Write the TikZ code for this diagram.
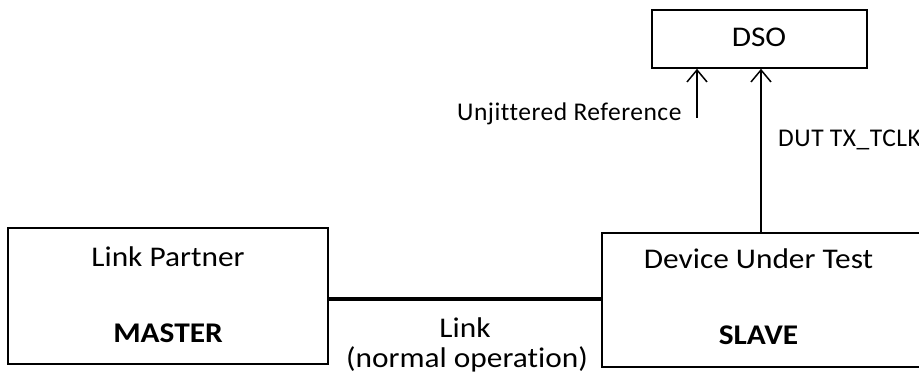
\documentclass[tikz,border=0pt]{standalone}
\usepackage{fontspec}
\setmainfont{Carlito}[Ligatures=NoCommon]
\newfontfamily\mainf{Carlito}[FakeStretch=1.1,Ligatures=NoCommon]
\newfontfamily\labf{Carlito}[Ligatures=NoCommon,LetterSpace=2]
\usetikzlibrary{arrows.meta}
\begin{document}
\begin{tikzpicture}[x=1pt,y=-1pt,
  box/.style={draw=black,line width=1.6pt,inner sep=0pt},
  txt/.style={anchor=base,inner sep=0pt,font=\mainf\fontsize{28.5}{30}\selectfont},
  btxt/.style={anchor=base,inner sep=0pt,font=\mainf\fontsize{28.5}{30}\selectfont\bfseries},
  lab/.style={anchor=base west,inner sep=0pt,font=\labf\fontsize{25.5}{28}\selectfont},
  arr/.style={line width=1.5pt,-{Straight Barb[length=12pt,width=20pt,line width=1.5pt]}}]
\clip (0,0) rectangle (919,379);
\fill[white] (0,0) rectangle (919,379);
% boxes
\node[box,minimum width=320pt,minimum height=136pt] (lp) at (168,296) {};
\node[box,minimum width=340pt,minimum height=134pt,anchor=north west] (dut) at (601,232) {};
\node[box,minimum width=215pt,minimum height=58pt] (dso) at (759.5,39) {};
% texts
\node[txt] (t1) at (168,267) {Link Partner};
\node[btxt] (t2) at (168,343) {MASTER};
\node[txt] (t3) at (758.5,269) {Device Under Test};
\node[btxt] (t4) at (758.5,345) {SLAVE};
\node[txt] (t5) at (759,47) {DSO};
\node[txt] (t6) at (465,338) {Link};
\node[txt] (t7) at (467,368) {(normal operation)};
\node[lab] (t8) at (457,121) {Unjittered Reference};
\node[lab] (t9) at (778,147) {DUT TX\_TCLK};
% connectors
\draw[line width=4pt] (lp.east |- 0,299) -- (dut.west |- 0,299);
\coordinate (refstart) at (697,118);
\draw[arr] (refstart) -- (refstart |- dso.south);
\coordinate (dutout) at (761,0);
\draw[arr] (dutout |- dut.north) -- (dutout |- dso.south);
\end{tikzpicture}
\end{document}
